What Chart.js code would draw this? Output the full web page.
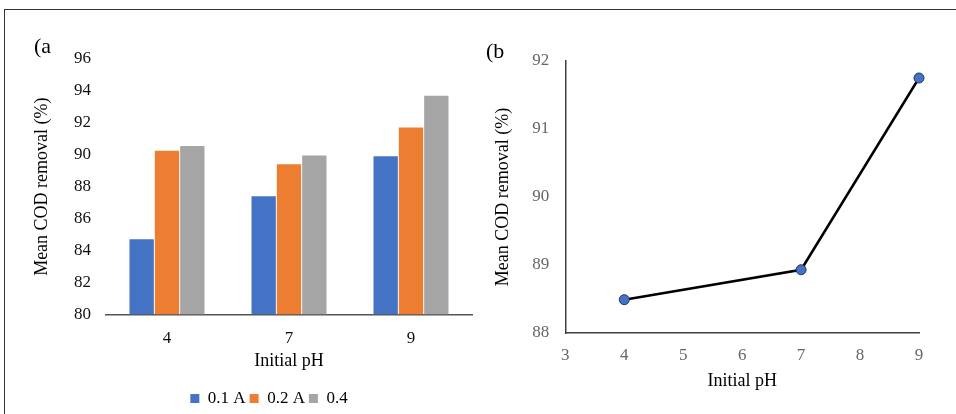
<!DOCTYPE html>
<html>
<head>
<meta charset="utf-8">
<script src="https://cdn.jsdelivr.net/npm/chart.js@4/dist/chart.umd.min.js"></script>
<style>
  body { margin: 0; background: #fff; width: 956px; height: 414px; overflow: hidden; position: relative; }
  .frame { position: absolute; left: 4px; top: 9px; width: 960px; height: 420px; border-top: 1.5px solid #333; border-left: 1.5px solid #333; }
  .tag { position: absolute; font: 22px 'Liberation Serif', 'Times New Roman', serif; line-height: 22px; color: #000; }
  canvas { position: absolute; top: 0; }
</style>
</head>
<body>
<div class="frame"></div>
<canvas id="barChart" width="480" height="414" style="left:0"></canvas>
<canvas id="lineChart" width="476" height="414" style="left:480px"></canvas>
<div class="tag" style="left:34px; top:35px">(a</div>
<div class="tag" style="left:486px; top:40px">(b</div>
<script>
// dados - painel (a)
const phLevels = ['4', '7', '9'];
const seriesNames = ['0.1 A', '0.2 A', '0.4'];
const removal01A = [84.7, 87.4, 89.9];
const removal02A = [90.25, 89.4, 91.7];
const removal04 = [90.55, 89.95, 93.7];
const seriesColors = ['#4472C4', '#ED7D31', '#A5A5A5'];
const yMinA = 80, yMaxA = 96, yStepA = 2;

// dados - painel (b)
const linePh = [4, 7, 9];
const lineRemoval = [88.49, 88.93, 91.75];
const xMinB = 3, xMaxB = 9;
const yMinB = 88, yMaxB = 92;

const serif = "'Liberation Serif', 'Times New Roman', serif";

// centraliza a legenda sob o painel (a)
const legendShift = {
    id: 'legendShift',
    afterLayout(chart) {
        const lg = chart.legend;
        if (!lg) return;
        const d = 269 - (lg.left + lg.right) / 2;
        lg.left += d;
        lg.right += d;
    }
};

const barCtx = document.getElementById('barChart').getContext('2d');
new Chart(barCtx, {
    type: 'bar',
    data: {
        labels: phLevels,
        datasets: [removal01A, removal02A, removal04].map((vals, i) => ({
            label: seriesNames[i],
            data: vals,
            backgroundColor: seriesColors[i],
            barPercentage: 0.96,
            categoryPercentage: 0.623
        }))
    },
    options: {
        responsive: false,
        animation: false,
        layout: { padding: { top: 59, left: 0, right: 8, bottom: -3 } },
        plugins: {
            tooltip: { enabled: false },
            legend: {
                position: 'bottom',
                labels: {
                    boxWidth: 9,
                    boxHeight: 9,
                    padding: 4,
                    color: '#000',
                    font: { family: serif, size: 17 }
                }
            }
        },
        scales: {
            y: {
                min: yMinA,
                max: yMaxA,
                afterFit: (s) => { s.width = 106; },
                ticks: { stepSize: yStepA, padding: 15, color: '#111', font: { family: serif, size: 17 } },
                grid: { display: false, drawTicks: false },
                border: { display: false },
                title: {
                    display: true,
                    text: 'Mean COD removal (%)',
                    color: '#000',
                    font: { family: serif, size: 18 },
                    padding: { top: 31, bottom: 0 }
                }
            },
            x: {
                afterFit: (s) => { s.height = 71.7; },
                ticks: { padding: 14, color: '#111', font: { family: serif, size: 17 } },
                grid: { display: false, drawTicks: false },
                border: { display: true, color: '#555', width: 1.5 },
                title: {
                    display: true,
                    text: 'Initial pH',
                    color: '#000',
                    font: { family: serif, size: 18 },
                    padding: { top: 0, bottom: 14 }
                }
            }
        }
    },
    plugins: [legendShift]
});

const lineCtx = document.getElementById('lineChart').getContext('2d');
new Chart(lineCtx, {
    type: 'line',
    data: {
        datasets: [{
            label: 'Mean COD removal',
            data: linePh.map((x, i) => ({ x: x, y: lineRemoval[i] })),
            borderColor: '#000',
            borderWidth: 2.5,
            pointRadius: 5,
            pointBackgroundColor: '#4472C4',
            pointBorderColor: '#1F3864',
            pointBorderWidth: 1,
            tension: 0,
            clip: false
        }]
    },
    options: {
        responsive: false,
        animation: false,
        layout: { padding: { top: 61, left: 0, right: 37, bottom: 0 } },
        plugins: {
            tooltip: { enabled: false },
            legend: { display: false }
        },
        scales: {
            x: {
                type: 'linear',
                min: xMinB,
                max: xMaxB,
                afterFit: (s) => { s.height = 81; },
                ticks: { stepSize: 1, padding: 12, color: '#666', font: { family: serif, size: 17 } },
                grid: { display: false, drawTicks: false },
                border: { display: true, color: '#404040', width: 1.5 },
                title: {
                    display: true,
                    text: 'Initial pH',
                    color: '#000',
                    font: { family: serif, size: 18 },
                    padding: { top: 0, bottom: 22 }
                }
            },
            y: {
                min: yMinB,
                max: yMaxB,
                afterFit: (s) => { s.width = 85.3; },
                ticks: { stepSize: 1, padding: 16, color: '#666', font: { family: serif, size: 17 } },
                grid: { display: false, drawTicks: false },
                border: { display: true, color: '#404040', width: 1.5 },
                title: {
                    display: true,
                    text: 'Mean COD removal (%)',
                    color: '#000',
                    font: { family: serif, size: 18 },
                    padding: { top: 12, bottom: 0 }
                }
            }
        }
    }
});
</script>
</body>
</html>
